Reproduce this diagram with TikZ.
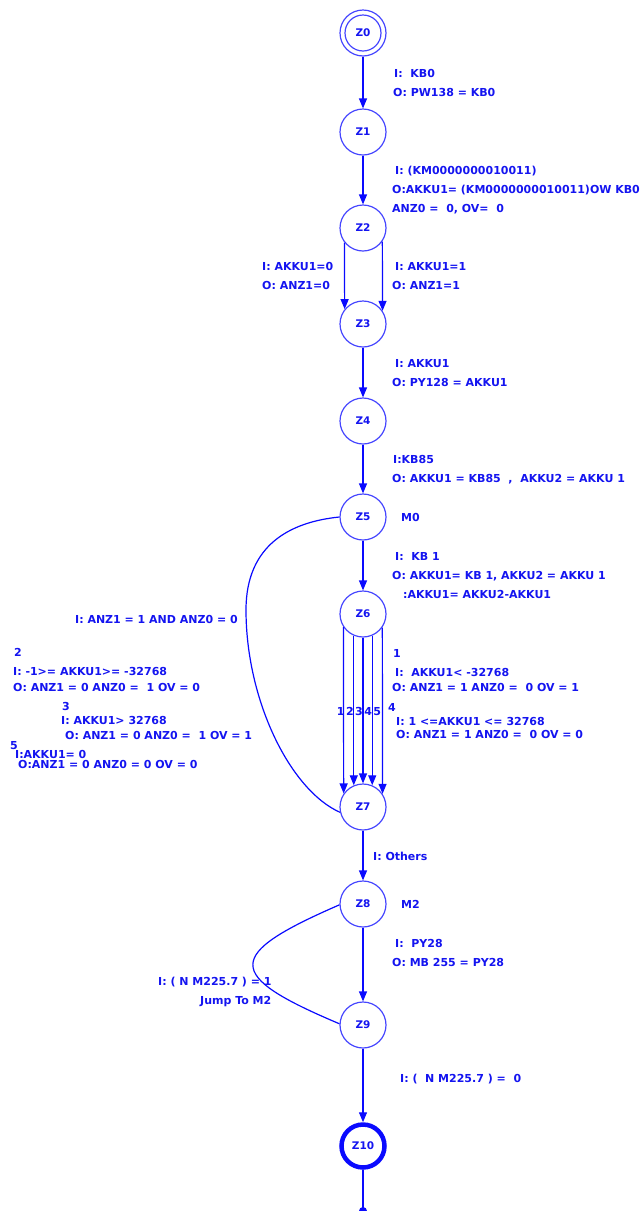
\documentclass[tikz,border=0pt]{standalone}
\usepackage{fontspec}
\setmainfont{DejaVu Sans}
\usetikzlibrary{arrows.meta}
\definecolor{txtblue}{RGB}{20,20,240}
\definecolor{edgeblue}{RGB}{10,10,255}
\definecolor{ringblue}{RGB}{70,70,255}
\begin{document}
\begin{tikzpicture}[x=1pt,y=-1pt,
  state/.style={circle, draw=ringblue, line width=1.2pt, minimum size=46pt,
    inner sep=0pt, text=txtblue, font=\bfseries\fontsize{10.5}{12}\selectfont},
  finalstate/.style={state, draw=edgeblue, line width=4.5pt, minimum size=43pt},
  lbl/.style={anchor=base west, text=txtblue, inner sep=0pt,
    font=\bfseries\fontsize{11}{12}\selectfont},
  trans/.style={draw=edgeblue, line width=1.2pt,
    -{Triangle[length=10pt,width=8pt]}},
  jumpline/.style={draw=edgeblue, line width=1.2pt}]
\useasboundingbox (0,0) rectangle (644,1211);

% states
\node[state] (Z0) at (363,33) {Z0};
\draw[ringblue, line width=1.2pt] (Z0.center) circle[radius=18pt];
\node[state] (Z1) at (363,132) {Z1};
\node[state] (Z2) at (363,228) {Z2};
\node[state] (Z3) at (363,324) {Z3};
\node[state] (Z4) at (363,421) {Z4};
\node[state] (Z5) at (363,517) {Z5};
\node[state] (Z6) at (363,614) {Z6};
\node[state] (Z7) at (363,807) {Z7};
\node[state] (Z8) at (363,904) {Z8};
\node[state] (Z9) at (363,1025) {Z9};
\node[finalstate] (Z10) at (363,1146) {Z10};
\coordinate (out) at (363,1211);

% transitions
\draw[trans] (Z0) -- (Z1);
\draw[trans] (Z1) -- (Z2);
\draw[trans] (Z2.218.5) -- (Z3.141.5);
\draw[trans] (Z2.325.7) -- (Z3.34.3);
\draw[trans] (Z3) -- (Z4);
\draw[trans] (Z4) -- (Z5);
\draw[trans] (Z5) -- (Z6);
\draw[trans] (Z6.214.3) -- (Z7.145.7);
\draw[trans] (Z6.247) -- (Z7.113);
\draw[trans] (Z6.270) -- (Z7.90);
\draw[trans] (Z6.293) -- (Z7.67);
\draw[trans] (Z6.325.7) -- (Z7.34.3);
\draw[trans] (Z7) -- (Z8);
\draw[trans] (Z8) -- (Z9);
\draw[trans] (Z9) -- (Z10);
\draw[jumpline] (Z10) -- (out);
\fill[edgeblue] (out) circle[radius=4pt];

% jumps back to the markers
\draw[jumpline] (Z5.west) .. controls (290,522) and (246,545) .. (246,610)
  .. controls (246,700) and (290,790) .. (Z7.193);
\draw[jumpline] (Z8.182) .. controls (224,955) and (224,975) .. (Z9.177);

% transition texts
\node[lbl] (t01a) at (394,77) {I:\ \ KB0};
\node[lbl] (t01b) at (393,96) {O: PW138 = KB0};
\node[lbl] (t12a) at (395,174) {I: (KM0000000010011)};
\node[lbl] (t12b) at (392,193) {O:AKKU1= (KM0000000010011)OW KB0};
\node[lbl] (t12c) at (392,212) {ANZ0 =\ \ 0, OV=\ \ 0};
\node[lbl] (t23a) at (262,270) {I: AKKU1=0};
\node[lbl] (t23b) at (262,289) {O: ANZ1=0};
\node[lbl] (t23c) at (395,270) {I: AKKU1=1};
\node[lbl] (t23d) at (392,289) {O: ANZ1=1};
\node[lbl] (t34a) at (395,367) {I: AKKU1};
\node[lbl] (t34b) at (392,386) {O: PY128 = AKKU1};
\node[lbl] (t45a) at (393,463) {I:KB85};
\node[lbl] (t45b) at (392,482) {O: AKKU1 = KB85\ \ ,\ \ AKKU2 = AKKU 1};
\node[lbl] (mk0) at (401,521) {M0};
\node[lbl] (t56a) at (395,560) {I:\ \ KB 1};
\node[lbl] (t56b) at (392,579) {O: AKKU1= KB 1, AKKU2 = AKKU 1};
\node[lbl] (t56c) at (403,598) {:AKKU1= AKKU2-AKKU1};
\node[lbl] (t57) at (75,623) {I: ANZ1 = 1 AND ANZ0 = 0};

\node[lbl] (n2) at (14,656) {2};
\node[lbl] (t2i) at (13,675) {I: -1>= AKKU1>= -32768};
\node[lbl] (t2o) at (13,691) {O: ANZ1 = 0 ANZ0 =\ \ 1 OV = 0};
\node[lbl] (n3) at (62,710) {3};
\node[lbl] (t3i) at (61,724) {I: AKKU1> 32768};
\node[lbl] (t3o) at (65,739) {O: ANZ1 = 0 ANZ0 =\ \ 1 OV = 1};
\node[lbl] (n5) at (10,749) {5};
\node[lbl] (t5i) at (15,758) {I:AKKU1= 0};
\node[lbl] (t5o) at (18,768) {O:ANZ1 = 0 ANZ0 = 0 OV = 0};

\node[lbl] (n1) at (393,657) {1};
\node[lbl] (t1i) at (395,676) {I:\ \ AKKU1< -32768};
\node[lbl] (t1o) at (392,691) {O: ANZ1 = 1 ANZ0 =\ \ 0 OV = 1};
\node[lbl] (n4) at (388,711) {4};
\node[lbl] (t4i) at (396,725) {I: 1 <=AKKU1 <= 32768};
\node[lbl] (t4o) at (396,738) {O: ANZ1 = 1 ANZ0 =\ \ 0 OV = 0};
\node[lbl, anchor=base] (nums) at (359,715)
  {1\hspace{1.5pt}2\hspace{1.5pt}3\hspace{1.5pt}4\hspace{1.5pt}5};

\node[lbl] (t78) at (373,860) {I: Others};
\node[lbl] (mk2) at (401,908) {M2};
\node[lbl] (t89a) at (395,947) {I:\ \ PY28};
\node[lbl] (t89b) at (392,966) {O: MB 255 = PY28};
\node[lbl] (t98a) at (158,985) {I: ( N M225.7 ) = 1};
\node[lbl] (t98b) at (200,1004) {Jump To M2};
\node[lbl] (t910) at (400,1082) {I: (\ \ N M225.7 ) =\ \ 0};
\end{tikzpicture}
\end{document}
